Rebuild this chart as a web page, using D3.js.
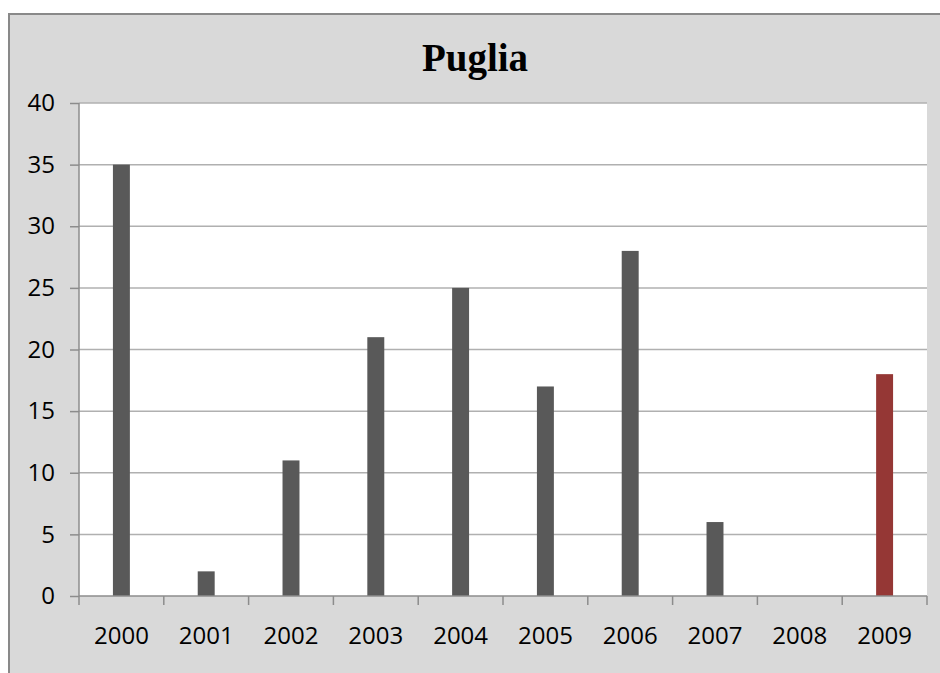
<!DOCTYPE html>
<html>
<head>
<meta charset="utf-8">
<script src="https://cdn.jsdelivr.net/npm/d3@7"></script>
<style>
body { margin:0; background:#fff; }
svg { display:block; }
</style>
</head>
<body>
<div id="chart"></div>
<script>
var years = ["2000","2001","2002","2003","2004","2005","2006","2007","2008","2009"];
var values = [35, 2, 11, 21, 25, 17, 28, 6, 0, 18];
var barColors = ["#595959","#595959","#595959","#595959","#595959","#595959","#595959","#595959","#595959","#953735"];
var yTicks = [0, 5, 10, 15, 20, 25, 30, 35, 40];
var title = "Puglia";

var W = 940, H = 673;
var margin = {top:103, right:13, bottom:77, left:79};
var width = W - margin.left - margin.right;
var height = H - margin.top - margin.bottom;

var svg = d3.select("#chart").append("svg")
     .attr("width", W)
     .attr("height", H);

// outer chart area
svg.append("rect")
     .attr("x", 9).attr("y", 14)
     .attr("width", W + 10).attr("height", H + 10)
     .attr("fill", "#d9d9d9")
     .attr("stroke", "#898989")
     .attr("stroke-width", 2);

svg.append("text")
     .attr("x", 475)
     .attr("y", 71)
     .attr("text-anchor", "middle")
     .style("font-family", "'Liberation Serif', serif")
     .style("font-weight", "bold")
     .style("font-size", "39px")
     .text(title);

var g = svg.append("g")
     .attr("transform", "translate(" + margin.left + "," + margin.top + ")");

var x = d3.scaleBand().domain(years).range([0, width]).padding(0);
var y = d3.scaleLinear().domain([0, 40]).range([height, 0]);

g.append("rect")
     .attr("width", width).attr("height", height)
     .attr("fill", "#ffffff");

// gridlines
g.selectAll(".grid")
     .data(yTicks.filter(function (d) { return d > 0; }))
     .enter().append("line")
     .attr("x1", 0).attr("x2", width)
     .attr("y1", function (d) { return y(d); })
     .attr("y2", function (d) { return y(d); })
     .attr("stroke", "#b0b0b0")
     .attr("stroke-width", 1.5);

g.selectAll(".bar")
     .data(values)
     .enter().append("rect")
     .attr("x", function (d, i) { return x(years[i]) + x.bandwidth() * 0.4; })
     .attr("width", x.bandwidth() * 0.2)
     .attr("y", function (d) { return y(d); })
     .attr("height", function (d) { return height - y(d); })
     .attr("fill", function (d, i) { return barColors[i]; });

var font = "'Open Sans', sans-serif";

var yAxis = g.append("g")
     .call(d3.axisLeft(y).tickValues(yTicks).tickSize(9).tickPadding(15).tickFormat(d3.format("d")));
yAxis.select(".domain").attr("stroke", "#8c8c8c").attr("stroke-width", 1.5).attr("d", "M0," + height + "V0");
yAxis.selectAll(".tick line").attr("stroke", "#8c8c8c").attr("stroke-width", 1.5);
yAxis.selectAll("text").style("font-family", font).style("font-size", "24px").attr("fill", "#000");

var xAxis = g.append("g")
     .attr("transform", "translate(0," + height + ")")
     .call(d3.axisBottom(x).tickSize(0).tickPadding(31));
xAxis.select(".domain").attr("stroke", "#8c8c8c").attr("stroke-width", 1.5).attr("d", "M0,0H" + width);
xAxis.selectAll("text").style("font-family", font).style("font-size", "24px").attr("fill", "#000");

// category boundary ticks
g.selectAll(".xtick")
     .data(years.concat(["end"]))
     .enter().append("line")
     .attr("x1", function (d, i) { return i * x.step(); })
     .attr("x2", function (d, i) { return i * x.step(); })
     .attr("y1", height).attr("y2", height + 9)
     .attr("stroke", "#8c8c8c")
     .attr("stroke-width", 1.5);
</script>
</body>
</html>
